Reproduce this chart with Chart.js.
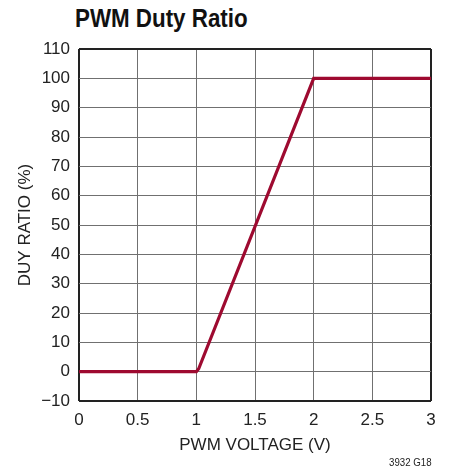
<!doctype html>
<html>
<head>
<title>PWM Duty Ratio</title>
<script src="https://cdn.jsdelivr.net/npm/chart.js@4.4.1/dist/chart.umd.min.js"></script>
<style>
  * { margin: 0; padding: 0; box-sizing: border-box; }
  body { width: 450px; height: 472px; background: #fff; position: relative; overflow: hidden;
         font-family: "Liberation Sans", Arial, sans-serif; }
  #title { position: absolute; left: 75px; top: 3px; font-size: 26px; font-weight: bold; color: #111;
           transform: scaleX(0.86); transform-origin: left top; white-space: nowrap; }
  #note { position: absolute; left: 389px; top: 456px; font-size: 11px; color: #222;
          transform: scaleX(0.88); transform-origin: left top; white-space: nowrap; }
  #wrap { position: absolute; left: 0; top: 0; width: 450px; height: 472px; }
</style>
</head>
<body>
<div id="title">PWM Duty Ratio</div>
<div id="wrap"><canvas id="myCanvas"></canvas></div>
<div id="note">3932 G18</div>
<script>
// PWM voltage (V) vs duty ratio (%)
const pwmVoltage = [0, 1, 1.02, 2, 3];
const dutyRatio = [0, 0, 1, 100, 100];
const xTicks = [0, 0.5, 1, 1.5, 2, 2.5, 3];
const yTicks = [-10, 0, 10, 20, 30, 40, 50, 60, 70, 80, 90, 100, 110];

const points = pwmVoltage.map((v, i) => ({ x: v, y: dutyRatio[i] }));
const fontFam = '"Liberation Sans", Arial, sans-serif';
const frame = '#222';
const grid = '#707070';

function edgeColor(min, max) {
  return ctx => (ctx.tick && (ctx.tick.value === min || ctx.tick.value === max)) ? frame : grid;
}
function edgeWidth(min, max) {
  return ctx => (ctx.tick && (ctx.tick.value === min || ctx.tick.value === max)) ? 2 : 1;
}

var ctx = document.getElementById('myCanvas').getContext('2d');
var myChart = new Chart(ctx, {
  type: 'line',
  data: {
    datasets: [{
      data: points,
      borderColor: '#9e0a30',
      borderWidth: 3.2,
      pointRadius: 0,
      tension: 0,
      fill: false
    }]
  },
  options: {
    responsive: true,
    maintainAspectRatio: false,
    animation: false,
    layout: { padding: { top: 49, right: 19, left: 0, bottom: 0 } },
    plugins: { legend: { display: false }, tooltip: { enabled: false } },
    scales: {
      x: {
        type: 'linear', min: 0, max: 3,
        afterBuildTicks: axis => { axis.ticks = xTicks.map(v => ({ value: v })); },
        afterFit: axis => { axis.height = 71; },
        grid: { color: edgeColor(0, 3), lineWidth: edgeWidth(0, 3), drawTicks: false },
        border: { display: false },
        ticks: { color: '#222', font: { family: fontFam, size: 17 }, padding: 9, maxRotation: 0,
                 callback: v => String(v) },
        title: { display: true, text: 'PWM VOLTAGE (V)', color: '#222',
                 font: { family: fontFam, size: 17 }, padding: { top: 2, bottom: 16 } }
      },
      y: {
        type: 'linear', min: -10, max: 110,
        afterBuildTicks: axis => { axis.ticks = yTicks.map(v => ({ value: v })); },
        afterFit: axis => { axis.width = 79; },
        grid: { color: edgeColor(-10, 110), lineWidth: edgeWidth(-10, 110), drawTicks: false },
        border: { display: false },
        ticks: { color: '#222', font: { family: fontFam, size: 17 }, padding: 9,
                 callback: v => String(v).replace('-', '\u2212') },
        title: { display: true, text: 'DUY RATIO (%)', color: '#222',
                 font: { family: fontFam, size: 17 }, padding: { bottom: 0, top: 15 } }
      }
    }
  }
});
</script>
</body>
</html>
